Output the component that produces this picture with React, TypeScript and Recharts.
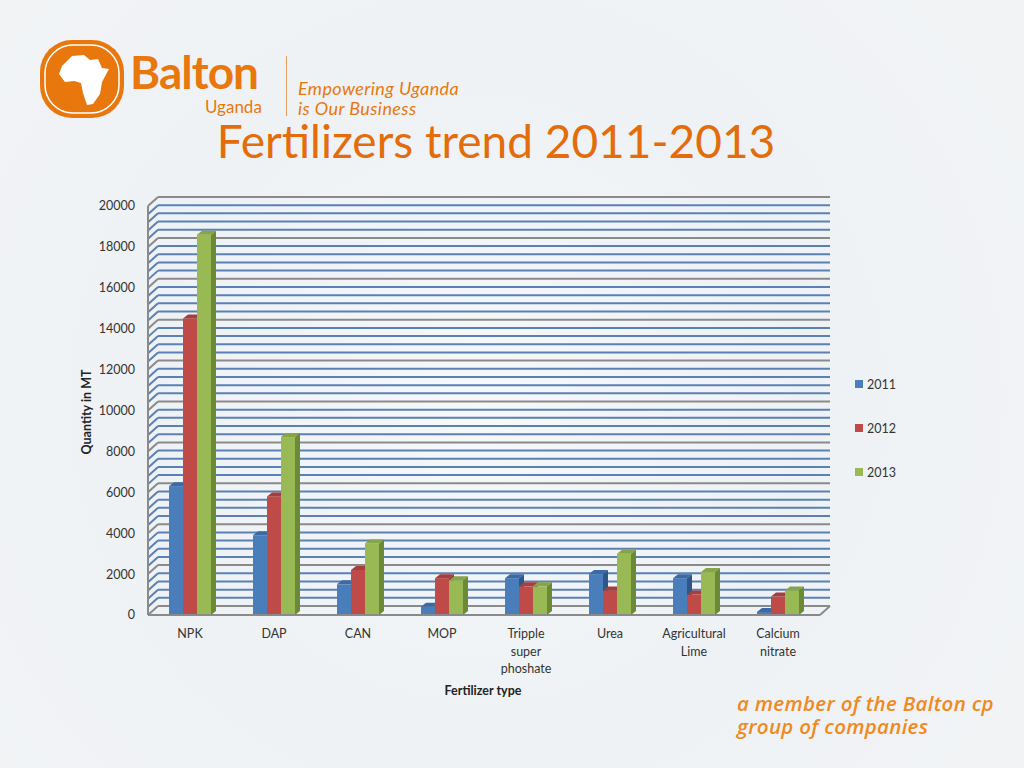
import { Bar, BarChart, CartesianGrid, XAxis, YAxis } from "recharts"

const categories = ["NPK", "DAP", "CAN", "MOP", "Tripple super phoshate", "Urea", "Agricultural Lime", "Calcium nitrate"]
const qty2011 = [6300, 3900, 1500, 400, 1800, 2000, 1800, 150]
const qty2012 = [14500, 5800, 2200, 1800, 1400, 1200, 1000, 900]
const qty2013 = [18600, 8700, 3500, 1700, 1400, 3000, 2100, 1200]
const years = ["2011", "2012", "2013"]
const majorTicks = [0, 2000, 4000, 6000, 8000, 10000, 12000, 14000, 16000, 18000, 20000]
// 4 minor lines between each major tick
const gridTicks = majorTicks.slice(0, -1).flatMap((t) => [t, t + 400, t + 800, t + 1200, t + 1600]).concat([20000])

const data = categories.map((name, i) => ({
  name,
  "2011": qty2011[i],
  "2012": qty2012[i],
  "2013": qty2013[i],
}))

const palette: Record<string, { front: string; top: string; side: string }> = {
  "2011": { front: "#4a7ebb", top: "#3c6aa4", side: "#2d5689" },
  "2012": { front: "#be4b48", top: "#a63f3c", side: "#8a3230" },
  "2013": { front: "#98b954", top: "#86a547", side: "#6c8935" },
}

const ORANGE = "#e46c0a"
const LOGO = "#e8780e"
const WALL_X = 10
const WALL_Y = 9

function Bar3D(props: any) {
  const { x, y, width, height, colors } = props
  if (height == null || height <= 0) return null
  const d = 5
  const dy = 4
  return (
    <g>
      <rect x={x} y={y} width={width} height={height} fill={colors.front} />
      <polygon points={`${x},${y} ${x + d},${y - dy} ${x + width + d},${y - dy} ${x + width},${y}`} fill={colors.top} />
      <polygon
        points={`${x + width},${y} ${x + width + d},${y - dy} ${x + width + d},${y + height - dy} ${x + width},${y + height}`}
        fill={colors.side}
      />
    </g>
  )
}

function GridLine(props: any) {
  const { x1, x2, y1, index, y, height } = props
  const major = index % 5 === 0
  const stroke = major ? "#8a8a8a" : "#5a80b4"
  const isFloor = Math.abs(y1 - (y + height)) < 1
  return (
    <g key={`g-${index}`}>
      <line x1={x1} y1={y1} x2={x1 + WALL_X} y2={y1 - WALL_Y} stroke={stroke} strokeWidth={2} />
      <line x1={x1 + WALL_X} y1={y1 - WALL_Y} x2={x2 + WALL_X} y2={y1 - WALL_Y} stroke={stroke} strokeWidth={2} />
      {isFloor && <line x1={x2} y1={y1} x2={x2 + WALL_X} y2={y1 - WALL_Y} stroke="#8a8a8a" strokeWidth={2} />}
    </g>
  )
}

function CategoryTick(props: any) {
  const { x, y, payload } = props
  const words = String(payload.value).split(" ")
  return (
    <text x={x} y={y} textAnchor="middle" fill="#333" fontSize={12.5}>
      {words.map((w, i) => (
        <tspan key={i} x={x} dy={i === 0 ? 15 : 17.5}>
          {w}
        </tspan>
      ))}
    </text>
  )
}

function LegendBox() {
  return (
    <div style={{ position: "absolute", left: 855, top: 376 }}>
      {years.map((yr) => (
        <div key={yr} style={{ display: "flex", alignItems: "center", height: 16, marginBottom: 28 }}>
          <span style={{ width: 8, height: 8, background: palette[yr].front, marginRight: 4 }} />
          <span style={{ fontSize: 12.5, color: "#333" }}>{yr}</span>
        </div>
      ))}
    </div>
  )
}

function Line(props: { left: number; top: number; size: number; lh: number; text: string; extra?: any }) {
  return (
    <div
      style={{
        position: "absolute",
        left: props.left,
        top: props.top,
        fontSize: props.size,
        lineHeight: `${props.lh}px`,
        whiteSpace: "nowrap",
        ...props.extra,
      }}
    >
      {props.text}
    </div>
  )
}

function Logo() {
  const tag = { color: LOGO, fontStyle: "italic", letterSpacing: 0.4 }
  return (
    <div style={{ position: "absolute", left: 38, top: 38 }}>
      <svg width={90} height={82} style={{ position: "absolute", left: 0, top: 0 }}>
        <rect x={2} y={2} width={84} height={78} rx={32} fill={LOGO} />
        <rect x={7} y={7} width={74} height={68} rx={28} fill="none" stroke="#fff" strokeWidth={1.5} />
        <path
          d="M24 28 L34 18 L46 17 L52 22 L60 21 L64 30 L71 31 L64 44 L62 56 L55 66 L49 67 L45 55 L43 45 L36 43 L27 44 L21 36 Z"
          fill="#fff"
        />
      </svg>
      <Line left={92} top={11} size={46} lh={46} text="Balton" extra={{ fontWeight: 700, color: LOGO, letterSpacing: -1 }} />
      <Line left={167} top={60} size={17} lh={17} text="Uganda" extra={{ color: LOGO }} />
      <div style={{ position: "absolute", left: 248, top: 18, width: 1, height: 60, background: "#e8a060" }} />
      <Line left={260} top={41} size={18} lh={18} text="Empowering Uganda" extra={tag} />
      <Line left={260} top={61} size={18} lh={18} text="is Our Business" extra={tag} />
    </div>
  )
}

export default function App() {
  const footer = {
    fontStyle: "italic",
    fontWeight: 600,
    color: "#f08a1c",
    fontFamily: "'Open Sans', sans-serif",
    letterSpacing: 0.3,
  }
  return (
    <div
      style={{
        position: "absolute",
        left: 0,
        top: 0,
        width: 1024,
        height: 768,
        overflow: "hidden",
        background: "radial-gradient(circle at 480px 400px, #f6f8fa 0, #eef2f5 320px, #f1f3f5 600px)",
        fontFamily: "Lato, 'Liberation Sans', sans-serif",
      }}
    >
      <Logo />
      <div
        style={{
          position: "absolute",
          left: 0,
          width: 992,
          top: 119,
          textAlign: "center",
          fontSize: 46,
          lineHeight: "44px",
          color: ORANGE,
          whiteSpace: "nowrap",
        }}
      >
        Fertilizers trend 2011-2013
      </div>
      <div style={{ position: "absolute", left: 0, top: 0 }}>
        <BarChart
          width={1024}
          height={768}
          data={data}
          margin={{ top: 206, right: 204, bottom: 73, left: 88 }}
          barCategoryGap="25%"
          barGap={0}
        >
          <CartesianGrid vertical={false} horizontal={(p: any) => <GridLine {...p} />} />
          <XAxis
            dataKey="name"
            height={80}
            interval={0}
            tick={<CategoryTick />}
            tickLine={false}
            axisLine={{ stroke: "#8a8a8a", strokeWidth: 2 }}
          />
          <YAxis
            width={60}
            domain={[0, 20000]}
            ticks={gridTicks}
            interval={0}
            tickLine={false}
            tickSize={6}
            tickMargin={7}
            tickFormatter={(v: number) => (v % 2000 === 0 ? String(v) : "")}
            tick={{ fill: "#333", fontSize: 12.5 }}
            axisLine={{ stroke: "#8a8a8a", strokeWidth: 2 }}
          />
          {years.map((yr) => (
            <Bar
              key={yr}
              dataKey={yr}
              isAnimationActive={false}
              fill={palette[yr].front}
              shape={(p: any) => <Bar3D {...p} colors={palette[yr]} />}
            />
          ))}
        </BarChart>
      </div>
      <LegendBox />
      <div
        style={{
          position: "absolute",
          left: 86,
          top: 412,
          transform: "translate(-50%, -50%) rotate(-90deg)",
          fontSize: 12.5,
          fontWeight: 700,
          color: "#222",
          whiteSpace: "nowrap",
        }}
      >
        Quantity in MT
      </div>
      <div
        style={{
          position: "absolute",
          left: 483,
          top: 690,
          transform: "translate(-50%, -50%)",
          fontSize: 12.5,
          fontWeight: 700,
          color: "#222",
          whiteSpace: "nowrap",
        }}
      >
        Fertilizer type
      </div>
      <Line left={737} top={693} size={20.5} lh={21} text="a member of the Balton cp" extra={footer} />
      <Line left={737} top={716} size={20.5} lh={21} text="group of companies" extra={footer} />
    </div>
  )
}
